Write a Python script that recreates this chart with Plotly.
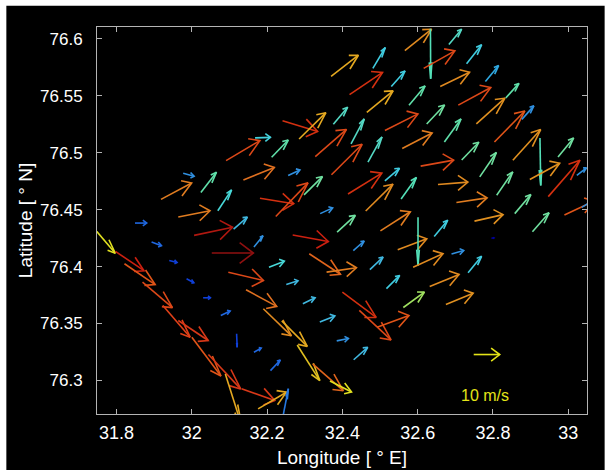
import plotly.graph_objects as go
from plotly.colors import sample_colorscale

# ---------------- data ----------------
lon = [32.370, 32.241, 32.285, 32.376, 32.168, 32.091, 32.212, 31.977, 32.024, 31.918,
       32.137, 32.256, 32.069, 32.181, 32.223, 32.298, 31.964, 32.341, 32.328, 32.566,
       32.634, 32.683, 32.481, 32.616, 32.730, 32.419, 32.530, 32.660, 32.780, 32.465,
       32.577, 32.708, 32.834, 32.756, 32.513, 32.624, 32.804, 32.877, 32.423, 32.671,
       32.559, 32.468, 32.371, 32.717, 32.853, 32.925, 32.973, 32.608, 32.765, 32.898,
       32.947, 33.023, 32.415, 32.513, 32.462, 32.556, 32.654, 32.810, 32.703, 32.858,
       32.990, 33.036, 32.751, 32.905, 32.501, 32.386, 32.644, 32.429, 32.547, 32.601,
       32.588, 32.690, 32.734, 32.796, 32.268, 32.165, 32.312, 32.358, 32.205, 32.473,
       32.251, 32.517, 32.295, 32.400, 32.562, 32.340, 32.632, 32.675, 32.445, 32.492,
       32.385, 32.430, 31.849, 31.893, 31.940, 31.986, 32.030, 32.077, 32.119, 32.165,
       32.209, 32.111, 32.006, 32.053, 32.097, 32.144, 32.190, 32.239, 32.280, 32.321,
       32.367, 31.740, 31.797, 31.821, 31.869, 31.923, 31.964, 32.000, 32.044, 32.089,
       32.132, 32.176, 32.242]
lat = [76.5670, 76.5280, 76.5120, 76.5250, 76.5130, 76.4930, 76.4960, 76.4820, 76.4650, 76.4590,
       76.4760, 76.4800, 76.4490, 76.4600, 76.4440, 76.4630, 76.4435, 76.4465, 76.4966, 76.5896,
       76.6087, 76.5949, 76.5740, 76.5740, 76.5780, 76.5510, 76.5580, 76.5580, 76.5625, 76.5353,
       76.5417, 76.5417, 76.5480, 76.5252, 76.5194, 76.5252, 76.5094, 76.5292, 76.5077, 76.5094,
       76.5036, 76.4916, 76.4806, 76.4936, 76.4933, 76.5128, 76.4962, 76.4882, 76.4787, 76.4765,
       76.4614, 76.4801, 76.4637, 76.4753, 76.4488, 76.4593, 76.4721, 76.4626, 76.4562, 76.4465,
       76.4453, 76.4520, 76.4399, 76.4305, 76.4314, 76.4303, 76.4265, 76.4140, 76.4148, 76.4432,
       76.3995, 76.4111, 76.3946, 76.4248, 76.4277, 76.4171, 76.4113, 76.3951, 76.3995, 76.3973,
       76.3843, 76.3806, 76.3674, 76.3776, 76.3641, 76.3514, 76.3826, 76.3668, 76.3615, 76.3468,
       76.3348, 76.3182, 76.4382, 76.4215, 76.4054, 76.3893, 76.3726, 76.3571, 76.3410, 76.3248,
       76.3087, 76.4329, 76.4274, 76.4119, 76.3951, 76.3797, 76.3630, 76.3523, 76.3312, 76.3146,
       76.2995, 76.4336, 76.4133, 76.4025, 76.3864, 76.3659, 76.3527, 76.3380, 76.3228, 76.3058,
       76.2927, 76.2751, 76.2683]
u = [10.5, 13.5, 10.3, 5.5, 5.9, 13.0, 6.4, 4.2, 6.0, 11.8,
     11.9, 4.5, 5.3, 13.0, 12.4, 7.1, 12.2, 4.8, 12.0, 10.3,
     0.1, 4.9, 4.8, 12.0, 5.8, 12.7, 5.3, 11.3, 5.1, 10.1,
     6.2, 12.5, 5.1, 11.0, 12.7, 6.9, 11.7, 4.6, 5.1, 6.4,
     11.5, 5.4, 11.8, 6.6, 10.7, 0.3, 6.0, 12.7, 6.4, 11.5,
     12.2, 3.7, 13.0, 5.6, 10.5, 5.9, 11.5, 6.2, 11.8, 6.2,
     11.5, 3.8, 11.0, 6.4, 11.5, 7.0, 5.2, 4.2, 11.2, 0.0,
     11.5, 4.7, 5.2, 1.0, 13.7, 3.5, 12.0, 11.5, 5.9, 5.1,
     4.5, 5.1, 4.7, 13.0, 8.1, 5.8, 11.3, 10.5, 12.2, 12.3,
     4.5, 5.4, 4.5, 3.8, 3.0, 2.8, 2.8, 3.6, 0.2, 2.8,
     3.8, 5.3, 14.8, 16.0, 13.5, 11.8, 10.8, 9.8, 8.7, 11.8,
     8.3, 8.2, 11.0, 11.8, 11.5, 10.5, 11.5, 11.2, 12.4, 6.3,
     12.8, 10.9, 2.1]
v = [8.1, -4.1, 10.1, 6.5, 0.2, 7.7, 6.6, -1.2, 7.8, 6.3,
     4.8, 2.1, 8.0, -2.1, 12.9, 7.0, 2.4, 2.2, 10.4, 8.2,
     -19.2, 5.9, 8.0, 6.7, 7.3, 8.5, 6.0, 5.5, 6.1, 8.3,
     7.4, 6.8, 5.6, 9.9, 6.4, 7.3, 11.9, 5.2, 9.6, 8.8,
     6.0, 9.7, 11.7, 6.8, 11.8, -18.2, 7.3, 2.3, 9.4, 6.2,
     14.0, 2.9, 8.0, 4.8, 10.3, 8.3, 0.9, 9.0, 1.8, 7.3,
     5.4, 2.3, 2.5, 7.3, 7.3, 6.4, 6.2, 3.7, 4.2, -18.5,
     5.2, 1.3, 6.3, 0.2, -2.5, 4.4, -7.9, 1.7, 2.3, 4.8,
     1.4, 5.1, 2.3, -9.7, 5.9, 2.3, 4.6, 4.3, -11.3, 4.5,
     0.9, 4.8, 0.0, -1.4, -0.8, -1.5, 0.0, 1.7, -5.2, 1.6,
     4.1, 4.6, 3.1, 0.0, -3.2, -6.4, -10.4, -9.8, -13.7, -10.3,
     -4.2, -9.6, -7.4, -8.0, -9.8, -12.2, -7.7, -14.9, -13.2, -19.9,
     -4.5, 6.4, 10.7]
cval = [0.65, 0.88, 0.65, 0.38, 0.34, 0.82, 0.42, 0.25, 0.42, 0.74,
        0.76, 0.25, 0.35, 0.88, 0.82, 0.44, 0.74, 0.25, 0.82, 0.71,
        0.39, 0.38, 0.33, 0.82, 0.33, 0.88, 0.33, 0.71, 0.29, 0.65,
        0.42, 0.82, 0.42, 0.69, 0.82, 0.44, 0.80, 0.25, 0.38, 0.42,
        0.74, 0.38, 0.82, 0.44, 0.69, 0.39, 0.44, 0.82, 0.44, 0.69,
        0.88, 0.25, 0.88, 0.33, 0.71, 0.39, 0.71, 0.44, 0.74, 0.44,
        0.80, 0.25, 0.69, 0.44, 0.74, 0.44, 0.33, 0.25, 0.71, 0.39,
        0.71, 0.25, 0.33, 0.00, 0.90, 0.25, 0.78, 0.74, 0.35, 0.31,
        0.31, 0.33, 0.31, 0.88, 0.50, 0.31, 0.71, 0.69, 0.82, 0.80,
        0.25, 0.31, 0.20, 0.20, 0.15, 0.15, 0.15, 0.20, 0.15, 0.20,
        0.20, 0.31, 0.94, 1.00, 0.82, 0.76, 0.71, 0.65, 0.61, 0.78,
        0.58, 0.58, 0.90, 0.80, 0.82, 0.84, 0.86, 0.80, 0.86, 0.65,
        0.86, 0.65, 0.22]

# reference (key) vector
key_lon, key_lat, key_u, key_v = 32.749, 76.3228, 10.0, 0.0
key_label = "10 m/s"
key_label_lon, key_label_lat = 32.780, 76.2870

xtick_vals = [31.8, 32.0, 32.2, 32.4, 32.6, 32.8, 33.0]
xtick_text = ["31.8", "32", "32.2", "32.4", "32.6", "32.8", "33"]
ytick_vals = [76.3, 76.35, 76.4, 76.45, 76.5, 76.55, 76.6]
ytick_text = ["76.3", "76.35", "76.4", "76.45", "76.5", "76.55", "76.6"]
x_title = "Longitude [\u00a0°\u00a0E]"
y_title = "Latitude [\u00a0°\u00a0N]"

# ---------------- style ----------------
X_RANGE = [31.748, 33.050]
Y_RANGE = [76.2706, 76.6103]
SCALE_LON = 0.006906   # degrees of longitude per m/s
SCALE_LAT = 0.0022853  # degrees of latitude per m/s
ALPHA, BETA = 0.33, 0.25
LW = 1.6
FONT = "Liberation Sans, Arial, Helvetica, sans-serif"
CMAP = [
    [0.00, 'rgb(0,0,160)'], [0.15, 'rgb(16,64,216)'], [0.20, 'rgb(32,104,224)'],
    [0.25, 'rgb(48,144,224)'], [0.29, 'rgb(48,168,224)'], [0.31, 'rgb(64,184,224)'],
    [0.33, 'rgb(64,204,224)'], [0.35, 'rgb(72,216,216)'], [0.38, 'rgb(84,216,196)'],
    [0.39, 'rgb(84,224,184)'], [0.42, 'rgb(96,224,170)'], [0.44, 'rgb(112,224,160)'],
    [0.50, 'rgb(160,224,96)'], [0.58, 'rgb(224,224,32)'], [0.61, 'rgb(224,192,32)'],
    [0.65, 'rgb(228,168,32)'], [0.69, 'rgb(224,144,32)'], [0.71, 'rgb(224,138,32)'],
    [0.74, 'rgb(224,124,32)'], [0.76, 'rgb(224,112,32)'], [0.78, 'rgb(224,100,28)'],
    [0.80, 'rgb(224,84,24)'], [0.82, 'rgb(220,72,24)'], [0.84, 'rgb(224,64,24)'],
    [0.86, 'rgb(216,56,24)'], [0.88, 'rgb(212,48,16)'], [0.90, 'rgb(204,32,16)'],
    [0.94, 'rgb(176,24,16)'], [1.00, 'rgb(144,16,16)'],
]
KEY_COLOR = 'rgb(228,228,24)'


def arrow_path(x0, y0, uu, vv):
    du, dv = uu * SCALE_LON, vv * SCALE_LAT
    x1, y1 = x0 + du, y0 + dv
    ax = x1 - ALPHA * (du + BETA * dv)
    ay = y1 - ALPHA * (dv - BETA * du)
    bx = x1 - ALPHA * (du - BETA * dv)
    by = y1 - ALPHA * (dv + BETA * du)
    return [x0, x1, None, ax, x1, bx], [y0, y1, None, ay, y1, by]


fig = go.Figure()
colors = sample_colorscale(CMAP, cval)
for x0, y0, uu, vv, col in zip(lon, lat, u, v, colors):
    xs, ys = arrow_path(x0, y0, uu, vv)
    fig.add_trace(go.Scatter(x=xs, y=ys, mode='lines', line=dict(color=col, width=LW),
                             hoverinfo='skip', showlegend=False))

xs, ys = arrow_path(key_lon, key_lat, key_u, key_v)
fig.add_trace(go.Scatter(x=xs, y=ys, mode='lines', line=dict(color=KEY_COLOR, width=LW),
                         hoverinfo='skip', showlegend=False))
fig.add_annotation(x=key_label_lon, y=key_label_lat, xref='x', yref='y', text=key_label,
                   showarrow=False, font=dict(family=FONT, size=16, color=KEY_COLOR))

axis_common = dict(showgrid=False, zeroline=False, showline=True, linecolor='#b4b4b4',
                   linewidth=1, mirror='ticks', ticks='inside', ticklen=5, tickwidth=1,
                   tickcolor='#b4b4b4', automargin=False)

fig.update_layout(
    width=612, height=470,
    margin=dict(l=97, r=25, t=27, b=56),
    paper_bgcolor='white', plot_bgcolor='black',
    xaxis=dict(range=X_RANGE, tickvals=xtick_vals, ticktext=xtick_text,
               ticklabelstandoff=2,
               tickfont=dict(family=FONT, size=18, color='white'),
               title=dict(text=x_title, standoff=9,
                          font=dict(family=FONT, size=19, color='white')),
               **axis_common),
    yaxis=dict(range=Y_RANGE, tickvals=ytick_vals, ticktext=ytick_text,
               ticklabelstandoff=10,
               tickfont=dict(family=FONT, size=17, color='white'),
               title=dict(text=y_title, standoff=2,
                          font=dict(family=FONT, size=19, color='white')),
               **axis_common),
    shapes=[dict(type='rect', xref='paper', yref='paper', layer='below',
                 x0=-0.185, x1=1.036, y0=-0.16, y1=1.055,
                 fillcolor='black', line=dict(width=0))],
)

fig.write_html("out.html")
